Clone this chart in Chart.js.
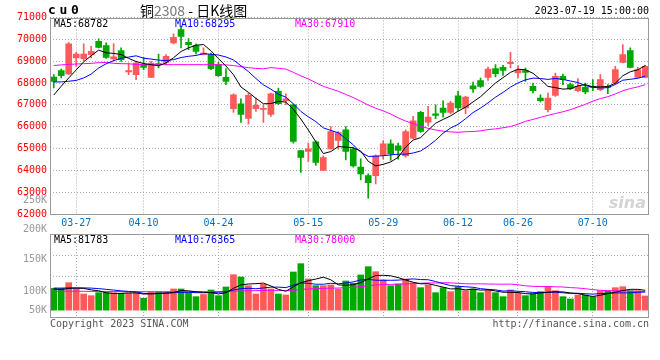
<!DOCTYPE html>
<html>
<head>
<meta charset="utf-8">
<script src="https://cdn.jsdelivr.net/npm/chart.js@4/dist/chart.umd.min.js"></script>
<style>
  html, body { margin: 0; padding: 0; background: #fff; }
  #wrap { position: relative; width: 660px; height: 360px; }
  #wrap canvas { position: absolute; left: 0; top: 0; }
</style>
</head>
<body>
<div id="wrap">
  <canvas id="priceChart" width="660" height="360"></canvas>
  <canvas id="volChart" width="660" height="360"></canvas>
</div>
<script>
// trading days shown (cu0 daily K)
const dates = [
  '03-22','03-23','03-24','03-27','03-28','03-29','03-30','03-31','04-03','04-04',
  '04-06','04-07','04-10','04-11','04-12','04-13','04-14','04-17','04-18','04-19',
  '04-20','04-21','04-24','04-25','04-26','04-27','04-28','05-04','05-05','05-08',
  '05-09','05-10','05-11','05-12','05-15','05-16','05-17','05-18','05-19','05-22',
  '05-23','05-24','05-25','05-26','05-29','05-30','05-31','06-01','06-02','06-05',
  '06-06','06-07','06-08','06-09','06-12','06-13','06-14','06-15','06-16','06-19',
  '06-20','06-21','06-26','06-27','06-28','06-29','06-30','07-03','07-04','07-05',
  '07-06','07-07','07-10','07-11','07-12','07-13','07-14','07-17','07-18','07-19'
];
const tickDates = ['03-27', '04-10', '04-24', '05-15', '05-29', '06-12', '06-26', '07-10'];

const opens = [
  68275, 68564, 68413, 69147, 69115, 69298, 69908, 69711, 69101, 69482,
  68505, 68381, 68872, 68257, 68872, 68945, 69835, 70445, 69862, 69711,
  69298, 69298, 68839, 68257, 66821, 67050, 66376, 66821, 66789, 66560,
  67615, 67188, 67005, 64908, 64862, 65307, 63991, 64986, 65367, 65858,
  64972, 64147, 63761, 63761, 64711, 65216, 65124, 64665, 65477, 66651,
  66211, 66592, 66853, 66651, 67417, 66853, 67876, 68106, 68257, 68656,
  68716, 68885, 68459, 68564, 67844, 67312, 66775, 67431, 68303, 67922,
  67647, 67798, 67844, 67693, 67844, 68000, 68945, 69482, 68257, 68257
];
const highs = [
  68380, 68642, 69849, 69404, 69789, 69679, 70018, 69835, 69803, 69606,
  68917, 68991, 69174, 68991, 69330, 69298, 70248, 70596, 70032, 69789,
  69606, 69376, 68945, 68656, 67509, 67280, 67541, 67312, 67005, 67541,
  67771, 67509, 67050, 64908, 65248, 65353, 64665, 66009, 65780, 66009,
  65064, 64528, 63839, 64711, 65367, 65399, 65248, 65858, 66468, 66697,
  66927, 67005, 67188, 67156, 67615, 67385, 68046, 68229, 68734, 68839,
  68807, 69404, 68794, 68688, 68000, 67463, 67541, 68459, 68413, 68000,
  68197, 68000, 68151, 68381, 67922, 68761, 69757, 69606, 68716, 68807
];
const lows = [
  67770, 68229, 68381, 68761, 69023, 69147, 69606, 69128, 69023, 68991,
  68381, 68151, 68610, 68240, 68688, 68839, 69789, 69606, 69527, 69330,
  69284, 68610, 68303, 67922, 66651, 66193, 66119, 66697, 66193, 66468,
  67005, 67005, 65248, 63899, 64404, 64220, 63991, 64986, 64972, 64482,
  64147, 63564, 62725, 63381, 64514, 64450, 64514, 64606, 65445, 65734,
  66055, 66362, 66440, 66592, 66743, 66592, 67569, 67798, 68119, 68275,
  68349, 68688, 68229, 68073, 67541, 67128, 66670, 67385, 67922, 67693,
  67587, 67509, 67647, 67647, 67509, 67968, 68917, 68688, 68229, 68229
];
const closes = [
  68073, 68335, 69789, 69330, 69330, 69450, 69633, 69174, 69193, 69069,
  68564, 68917, 68716, 68917, 68839, 69220, 70092, 70138, 69757, 69450,
  69376, 68656, 68335, 68073, 67463, 66560, 67431, 66972, 66821, 67509,
  67050, 67280, 65321, 64587, 64986, 64358, 64587, 65780, 65734, 64862,
  64206, 63839, 63440, 64665, 65216, 64757, 64908, 65780, 66271, 65780,
  66440, 66514, 66651, 67083, 66853, 67358, 67725, 67844, 68642, 68427,
  68578, 68945, 68578, 68486, 67647, 67188, 67312, 68303, 68151, 67739,
  67844, 67587, 67798, 68151, 67798, 68610, 69298, 68716, 68610, 68761
];
const volumes = [
  91400, 91400, 114200, 89400, 68100, 61200, 73400, 73400, 73400, 71000,
  71000, 73400, 50600, 77500, 77500, 77500, 88500, 88500, 73400, 57100,
  66100, 84500, 61200, 96700, 146900, 137500, 102000, 68100, 107700, 88500,
  68100, 64100, 157900, 191800, 129300, 102000, 102000, 104900, 88500, 121200,
  111800, 145700, 179500, 159100, 125300, 102000, 108900, 129300, 114200, 93800,
  104900, 73400, 93800, 77500, 97900, 81600, 88500, 73400, 84500, 73400,
  57100, 84500, 71000, 61200, 68100, 77500, 97900, 81600, 57100, 47700,
  64100, 64100, 57100, 81600, 80400, 93800, 97900, 81600, 81600, 60000
];

// moving-average values before a full window exists
const ma5Head = [67450, 67850, 68230, 68600];
const ma10Head = [68050, 68050, 68080, 68120, 68230, 68410, 68690, 68880, 69020];
const ma30Head = [
  68800, 68830, 68850, 68870, 68885, 68900, 68930, 68940, 68900, 68885,
  68880, 68850, 68840, 68840, 68840, 68840, 68840, 68840, 68840, 68840,
  68840, 68840, 68840, 68830, 68800, 68750, 68700, 68670, 68650
];
const volMa5Head = [88000, 86000, 91000, 92000];
const volMa10Head = [92000, 92000, 93000, 93000, 93000, 92000, 90000, 87000, 84000];
const volMa30Head = [
  79000, 79000, 79500, 79500, 79000, 78500, 78500, 78000, 78000, 78000,
  77500, 77500, 77500, 77000, 77000, 77000, 77000, 77500, 77500, 77500,
  77500, 78000, 78000, 78500, 79500, 80500, 81000, 81500, 82500
];

const priceMaLabels = ['MA5:68782', 'MA10:68295', 'MA30:67910'];
const volMaLabels = ['MA5:81783', 'MA10:76365', 'MA30:78000'];
const volTickValues = [0, 80000, 210000, 330000, 450000];
const volTickLabels = ['50K', '100K', '150K', '200K', '250K'];

const MONO = '"DejaVu Sans Mono", monospace';
const UP = '#ff5a5a';
const DOWN = '#00a800';
const GRID = '#aaaaaa';
const maColors = ['#000000', '#0000ff', '#ff00ff'];

function movingAvg(series, n, head) {
  return series.map((v, i) => {
    if (i < n - 1) return head[i];
    let s = 0;
    for (let k = i - n + 1; k <= i; k++) s += series[k];
    return s / n;
  });
}

const candleColors = closes.map((c, i) => c >= opens[i] ? UP : DOWN);
const priceMa = [
  movingAvg(closes, 5, ma5Head),
  movingAvg(closes, 10, ma10Head),
  movingAvg(closes, 30, ma30Head)
];
const volMa = [
  movingAvg(volumes, 5, volMa5Head),
  movingAvg(volumes, 10, volMa10Head),
  movingAvg(volumes, 30, volMa30Head)
];

function maDatasets(arrays) {
  return arrays.map((d, i) => ({
    type: 'line',
    data: d,
    borderColor: maColors[i],
    borderWidth: 1,
    pointRadius: 0,
    tension: 0,
    fill: false
  }));
}

function dateTicks(scale) {
  scale.ticks = tickDates.map(d => ({ value: dates.indexOf(d) }));
}

const framePlugin = {
  id: 'frame',
  afterDraw(chart) {
    const a = chart.chartArea, ctx = chart.ctx;
    ctx.save();
    ctx.strokeStyle = '#999';
    ctx.lineWidth = 1;
    ctx.strokeRect(Math.round(a.left) + 0.5, Math.round(a.top) + 0.5,
      Math.round(a.right - a.left) - 1, Math.round(a.bottom - a.top) - 1);
    ctx.restore();
  }
};

function drawMaLabels(ctx, labels, y) {
  const xs = [54, 175, 295];
  ctx.font = '10px ' + MONO;
  ctx.textBaseline = 'middle';
  ctx.textAlign = 'left';
  labels.forEach((t, i) => {
    ctx.fillStyle = maColors[i];
    ctx.fillText(t, xs[i], y);
  });
}

const priceText = {
  id: 'priceText',
  afterDraw(chart) {
    const ctx = chart.ctx;
    ctx.save();
    drawMaLabels(ctx, priceMaLabels, 24);

    // contract code, wide-spaced
    ctx.fillStyle = '#000';
    ctx.font = 'bold 13px ' + MONO;
    ctx.textAlign = 'left';
    ctx.textBaseline = 'middle';
    ['c', 'u', '0'].forEach((ch, i) => ctx.fillText(ch, 48 + i * 11.5, 11));

    // title
    const parts = [['铜', '#000'], ['2308', '#777'], [' - ', '#000'], ['日K线图', '#000']];
    let x = 140;
    ctx.font = '14px "Noto Sans CJK SC"';
    parts.forEach(p => {
      ctx.fillStyle = p[1];
      ctx.fillText(p[0], x, 11);
      x += ctx.measureText(p[0]).width;
    });

    // time stamp
    ctx.font = '10px ' + MONO;
    ctx.fillStyle = '#000';
    ctx.textAlign = 'right';
    ctx.fillText('2023-07-19 15:00:00', 649, 11);

    // watermark
    ctx.font = 'italic bold 16px "DejaVu Sans"';
    ctx.fillStyle = '#d4d4d4';
    ctx.fillText('sina', 646, 204);
    ctx.restore();
  }
};

const volText = {
  id: 'volText',
  afterDraw(chart) {
    const ctx = chart.ctx;
    ctx.save();
    drawMaLabels(ctx, volMaLabels, 240);
    ctx.font = '10px ' + MONO;
    ctx.fillStyle = '#555';
    ctx.textBaseline = 'middle';
    ctx.textAlign = 'left';
    ctx.fillText('Copyright 2023 SINA.COM', 50, 324);
    ctx.textAlign = 'right';
    ctx.fillText('http://finance.sina.com.cn', 649, 324);
    ctx.restore();
  }
};

Chart.defaults.animation = false;
Chart.defaults.events = [];

new Chart(document.getElementById('priceChart'), {
  type: 'bar',
  data: {
    labels: dates,
    datasets: [
      ...maDatasets(priceMa),
      {
        data: opens.map((o, i) => [o, closes[i]]),
        backgroundColor: candleColors,
        borderWidth: 0,
        barThickness: 6,
        minBarLength: 1,
        grouped: false
      },
      {
        data: lows.map((l, i) => [l, highs[i]]),
        backgroundColor: candleColors,
        borderWidth: 0,
        barThickness: 1,
        grouped: false
      }
    ]
  },
  options: {
    responsive: false,
    layout: { padding: { left: 0, right: 11, top: 17.5, bottom: 0 } },
    plugins: { legend: { display: false }, tooltip: { enabled: false } },
    scales: {
      x: {
        afterBuildTicks: dateTicks,
        afterFit(scale) { scale.height = 146; },
        ticks: {
          autoSkip: false, maxRotation: 0, padding: 3,
          color: '#0070c8', font: { family: MONO, size: 10 }
        },
        grid: { offset: false, color: GRID, drawTicks: false },
        border: { display: false, dash: [1, 2] }
      },
      y: {
        min: 62000,
        max: 71000,
        afterFit(scale) { scale.width = 50; },
        ticks: {
          stepSize: 1000, padding: 3,
          color: '#ff0000', font: { family: MONO, size: 10 },
          callback: v => String(v)
        },
        grid: { color: GRID, drawTicks: false },
        border: { display: false, dash: [1, 2] }
      }
    }
  },
  plugins: [framePlugin, priceText]
});

new Chart(document.getElementById('volChart'), {
  type: 'bar',
  data: {
    labels: dates,
    datasets: [
      ...maDatasets(volMa),
      {
        data: volumes,
        backgroundColor: candleColors,
        borderWidth: 0,
        barThickness: 6
      }
    ]
  },
  options: {
    responsive: false,
    layout: { padding: { left: 0, right: 11, top: 234, bottom: 0 } },
    plugins: { legend: { display: false }, tooltip: { enabled: false } },
    scales: {
      x: {
        afterBuildTicks: dateTicks,
        afterFit(scale) { scale.height = 42; },
        ticks: { display: false },
        grid: { offset: false, color: GRID, drawTicks: false },
        border: { display: false, dash: [1, 2] }
      },
      y: {
        min: -30000,
        max: 313000,
        afterFit(scale) { scale.width = 50; },
        afterBuildTicks(scale) {
          const step = (scale.max - scale.min) / 4;
          const t = [1, 2, 3].map(j => ({ value: scale.min + step * j, grid: true }));
          volTickValues.forEach((v, i) => t.push({ value: v, txt: volTickLabels[i] }));
          t.sort((a, b) => a.value - b.value);
          scale.ticks = t;
        },
        ticks: {
          autoSkip: false, padding: 3,
          color: '#999999', font: { family: MONO, size: 10 },
          callback: (v, i, ticks) => ticks[i].txt || ''
        },
        grid: {
          color: c => (c.tick && c.tick.grid) ? GRID : 'rgba(0,0,0,0)',
          drawTicks: false
        },
        border: { display: false, dash: [1, 2] }
      }
    }
  },
  plugins: [framePlugin, volText]
});
</script>
</body>
</html>
